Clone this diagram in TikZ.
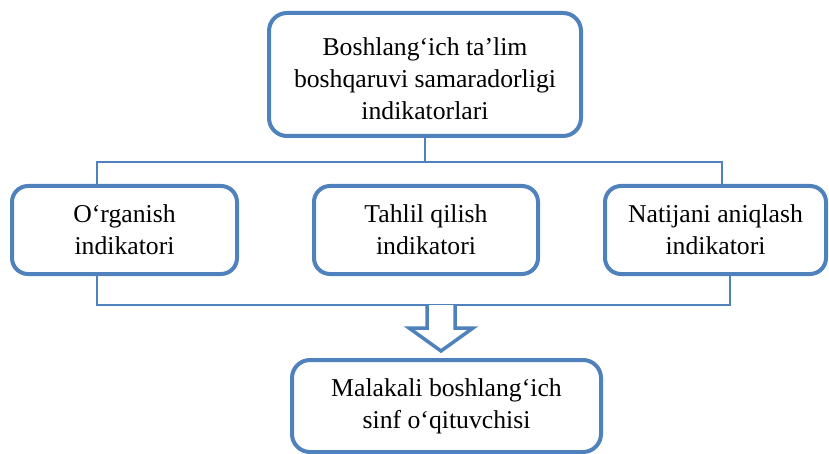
\documentclass[tikz,border=0pt]{standalone}
\usepackage{fontspec}
\setmainfont{Liberation Serif}
\definecolor{obl}{HTML}{4F81BD}
\begin{document}
\begin{tikzpicture}[x=1pt,y=-1pt,
  box/.style={draw=obl,line width=4pt,fill=white,rounded corners=18pt,align=center,outer sep=0pt,inner sep=0pt,
    font=\fontsize{25.7}{32}\selectfont},
  conn/.style={draw=obl,line width=1.5pt},
  barrow/.style={draw=obl,line width=3.5pt,fill=white,line join=miter}]
\useasboundingbox (0,0) rectangle (829,454);
\node[box,minimum width=312pt,minimum height=123pt] (T) at (425,74.5) {\rule{0pt}{26pt}Boshlang‘ich ta’lim\\boshqaruvi samaradorligi\\indikatorlari};
\node[box,minimum width=225pt,minimum height=88pt,rounded corners=16pt] (L) at (124.5,230) {O‘rganish\\indikatori};
\node[box,minimum width=224pt,minimum height=88pt,rounded corners=16pt] (M) at (426,230) {Tahlil qilish\\indikatori};
\node[box,minimum width=221pt,minimum height=88pt,rounded corners=16pt] (R) at (715.5,230) {Natijani aniqlash\\indikatori};
\node[box,minimum width=309pt,minimum height=92pt] (B) at (446.5,406) {Malakali boshlang‘ich\\sinf o‘qituvchisi};
\coordinate (jt) at (425,162);
\coordinate (jb) at (441,305);
\draw[conn] (T.south) -- (jt);
\draw[conn] ([xshift=-27.5pt]L.north) |- (jt) -| ([xshift=6.5pt]R.north);
\draw[conn] ([xshift=-27.5pt]L.south) |- (jb) -| ([xshift=14.5pt]R.south);
\filldraw[barrow] ([xshift=-14pt]jb) -- ++(0,23) -- ++(-18,0) -- ++(32,23) -- ++(32,-23) -- ++(-18,0) -- ++(0,-23);
\end{tikzpicture}
\end{document}
